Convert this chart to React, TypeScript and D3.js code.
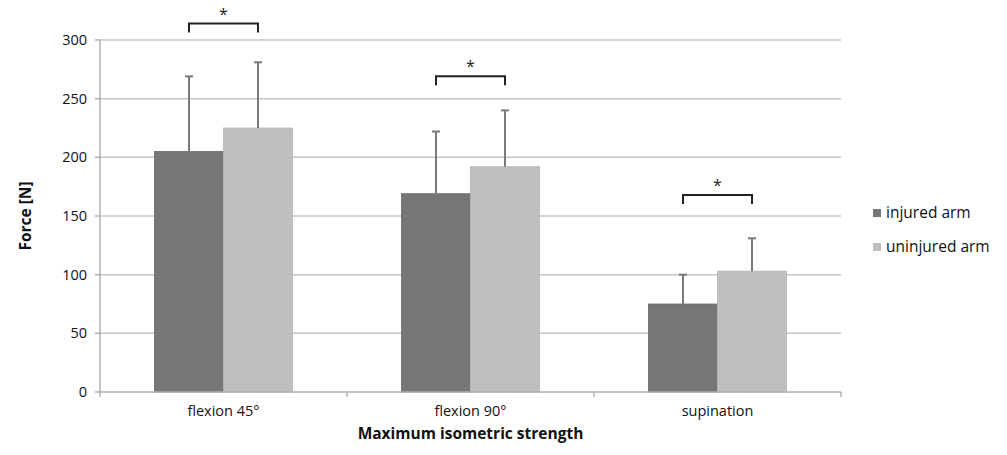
import React from 'react';
import * as d3 from 'd3';

const categories = ['flexion 45°', 'flexion 90°', 'supination'];
const seriesNames = ['injured arm', 'uninjured arm'];
const injuredMean = [205, 169, 75];
const injuredSD = [64, 53, 25];
const uninjuredMean = [225, 192, 103];
const uninjuredSD = [56, 48, 28];
const sigLevel = [314, 269, 168];
const yTicks = [0, 50, 100, 150, 200, 250, 300];

const colors = ['#767676', '#bfbfbf'];
const font = "'Open Sans', 'Lato', sans-serif";

const W = 1007;
const H = 455;
const margin = { top: 40, right: 166, bottom: 63, left: 100 };

const App = () => {
  const innerW = W - margin.left - margin.right;
  const innerH = H - margin.top - margin.bottom;

  // band per category, sub-band per series
  const x = d3.scaleBand().domain(categories).range([0, innerW]).paddingInner(0).paddingOuter(0);
  const x1 = d3.scaleBand().domain(seriesNames).range([0, x.bandwidth()]).paddingOuter(0.79);
  const y = d3.scaleLinear().domain([0, 300]).range([innerH, 0]);

  const means = [injuredMean, uninjuredMean];
  const sds = [injuredSD, uninjuredSD];

  return (
    <div style={{ position: 'absolute', left: 0, top: 0 }}>
      <svg width={W} height={H} style={{ display: 'block', fontFamily: font }}>
        <rect width={W} height={H} fill="#fff" />
        <g transform={`translate(${margin.left},${margin.top})`}>
          {/* gridlines */}
          {yTicks.filter(t => t > 0).map(t => (
            <line key={t} x1={0} x2={innerW} y1={y(t)} y2={y(t)} stroke="#c4c4c4" strokeWidth={1.5} />
          ))}
          {/* y axis */}
          <line x1={0} x2={0} y1={0} y2={innerH} stroke="#b0b0b0" strokeWidth={1.5} />
          {yTicks.map(t => (
            <g key={t}>
              <line x1={-5} x2={0} y1={y(t)} y2={y(t)} stroke="#b0b0b0" strokeWidth={1.5} />
              <text x={-13} y={y(t)} dy="0.35em" textAnchor="end" fontSize={14.5} fill="#111">{t}</text>
            </g>
          ))}
          {/* bars */}
          {categories.map((c, i) => (
            <g key={c} transform={`translate(${x(c)},0)`}>
              {seriesNames.map((s, k) => {
                const bx = x1(s) as number;
                const bw = x1.bandwidth();
                const cx = bx + bw / 2;
                const v = means[k][i];
                const top = y(v + sds[k][i]);
                return (
                  <g key={s}>
                    <rect x={bx} y={y(v)} width={bw} height={innerH - y(v)} fill={colors[k]} stroke={k === 0 ? '#6a6a6a' : '#b5b5b5'} strokeWidth={0.8} />
                    <line x1={cx} x2={cx} y1={y(v)} y2={top} stroke="#7a7a7a" strokeWidth={2} />
                    <line x1={cx - 4} x2={cx + 4} y1={top} y2={top} stroke="#7a7a7a" strokeWidth={2} />
                  </g>
                );
              })}
              {/* significance bracket */}
              {(() => {
                const a = (x1(seriesNames[0]) as number) + x1.bandwidth() / 2;
                const b = (x1(seriesNames[1]) as number) + x1.bandwidth() / 2;
                const yy = y(sigLevel[i]);
                return (
                  <g>
                    <path d={`M${a},${yy + 9}V${yy}H${b}V${yy + 9}`} fill="none" stroke="#222" strokeWidth={2} />
                    <text x={(a + b) / 2} y={yy - 4} textAnchor="middle" fontSize={16} fill="#222">*</text>
                  </g>
                );
              })()}
            </g>
          ))}
          {/* x axis */}
          <line x1={0} x2={innerW} y1={innerH} y2={innerH} stroke="#b0b0b0" strokeWidth={1.5} />
          {[0, ...categories.map(c => (x(c) as number) + x.bandwidth())].map((p, i) => (
            <line key={i} x1={p} x2={p} y1={innerH} y2={innerH + 5} stroke="#b0b0b0" strokeWidth={1.5} />
          ))}
          {categories.map(c => (
            <text key={c} x={(x(c) as number) + x.bandwidth() / 2} y={innerH + 24} textAnchor="middle" fontSize={14.5} fill="#111">{c}</text>
          ))}
          <text x={innerW / 2} y={innerH + 47} textAnchor="middle" fontSize={15.5} fontWeight="bold" fill="#111">Maximum isometric strength</text>
          <text transform={`translate(-69,${innerH / 2}) rotate(-90)`} textAnchor="middle" fontSize={15.5} fontWeight="bold" fill="#111">Force [N]</text>
        </g>
        {/* legend */}
        <g transform="translate(873,213)">
          {seriesNames.map((s, k) => (
            <g key={s} transform={`translate(0,${k * 34})`}>
              <rect x={0} y={-4} width={8} height={8} fill={colors[k]} />
              <text x={13} y={0} dy="0.35em" fontSize={15.5} fill="#111">{s}</text>
            </g>
          ))}
        </g>
      </svg>
    </div>
  );
};

export default App;
